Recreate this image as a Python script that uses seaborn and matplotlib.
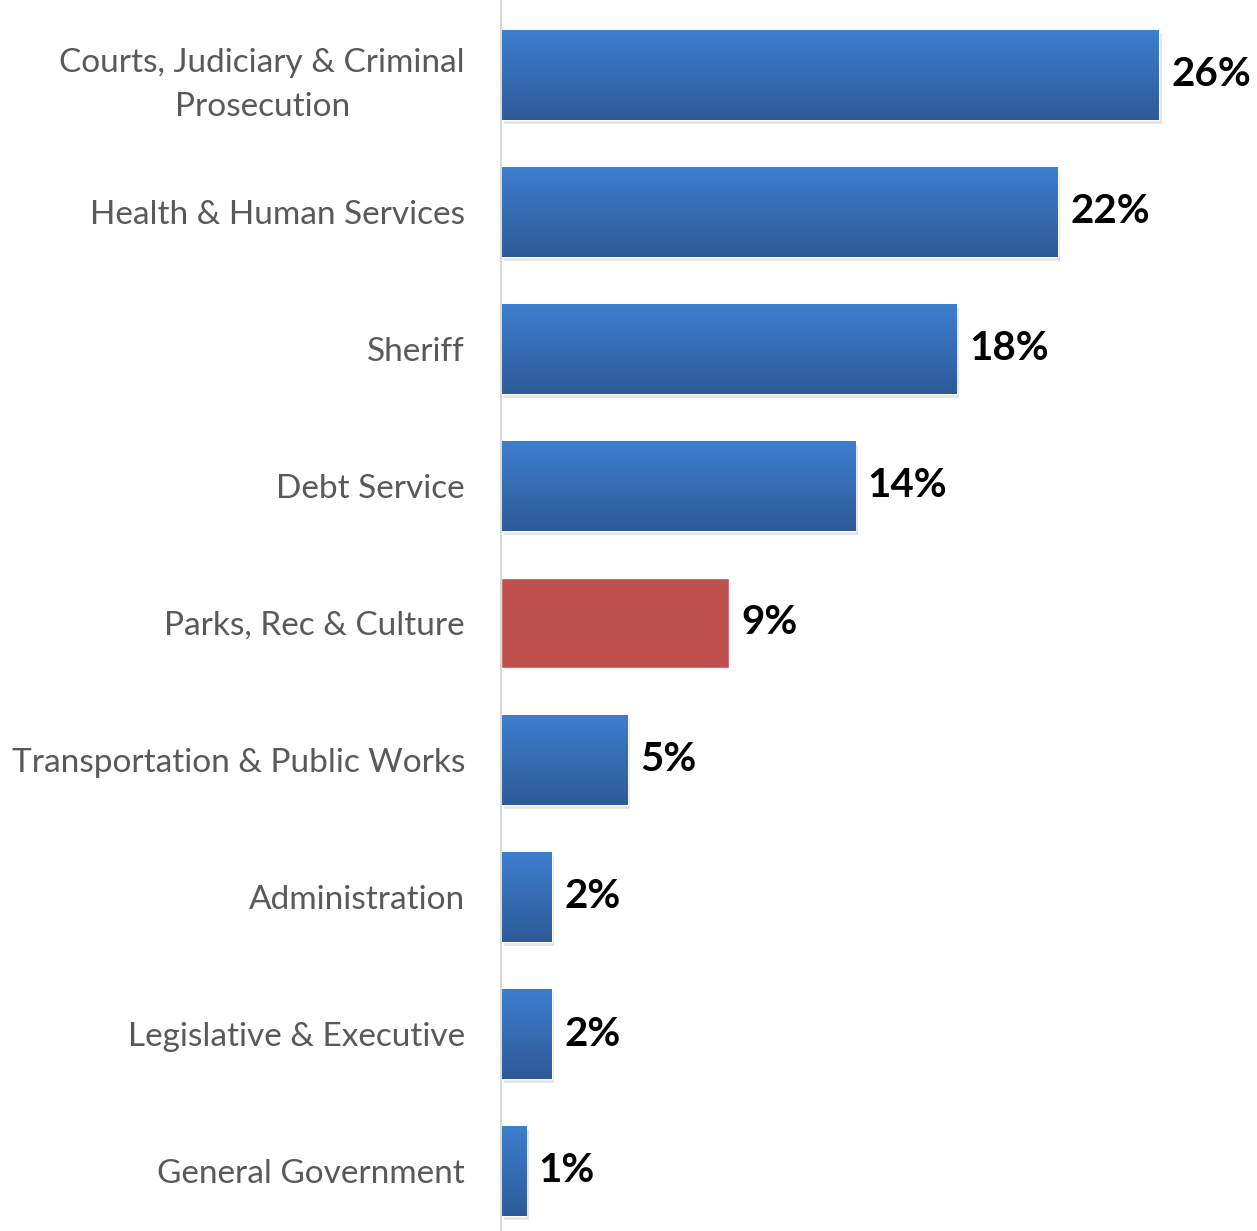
#import libraries
import numpy as np
import pandas as pd
import seaborn as sns
import matplotlib.pyplot as plt
import matplotlib.patheffects as pe
from matplotlib.colors import LinearSegmentedColormap

#chart data
categories = ['Courts, Judiciary & Criminal\nProsecution', 'Health & Human Services', 'Sheriff',
              'Debt Service', 'Parks, Rec & Culture', 'Transportation & Public Works',
              'Administration', 'Legislative & Executive', 'General Government']
values = [26, 22, 18, 14, 9, 5, 2, 2, 1]
value_labels = ['26%', '22%', '18%', '14%', '9%', '5%', '2%', '2%', '1%']
highlight = 'Parks, Rec & Culture'

df = pd.DataFrame({'category': categories, 'value': values})
colors = ['#C0504D' if c == highlight else '#3A74BE' for c in categories]

sns.set_style('white')
plt.rcParams['font.family'] = ['Lato', 'DejaVu Sans']

fig = plt.figure(figsize=(12.57, 12.31), dpi=100)
ax = fig.add_axes([501 / 1257, 0, 756 / 1257, 1])

sns.barplot(data=df, x='value', y='category', hue='category', palette=colors,
            legend=False, width=0.66, ax=ax, saturation=1)

#gradient fill + soft shadow on blue bars
grad = LinearSegmentedColormap.from_list('blue_grad', ['#3D7FD0', '#2D5A97'])
for patch, c in zip(ax.patches, categories):
    if c == highlight:
        continue
    patch.set_path_effects([pe.SimplePatchShadow(offset=(2, -3), shadow_rgbFace='#999999', alpha=0.25),
                            pe.Normal()])
    x0, y0 = patch.get_x(), patch.get_y()
    w, h = patch.get_width(), patch.get_height()
    im = ax.imshow(np.linspace(0, 1, 100).reshape(-1, 1), cmap=grad, aspect='auto',
                   extent=[x0, x0 + w, y0 + h, y0], origin='upper', zorder=patch.get_zorder() + 0.1)
    im.set_clip_path(patch)

ax.set_xlim(0, 756 / 25.3)
ax.set_ylim(8 + 60 / 137, -75 / 137)

#value labels
for i, (v, lab) in enumerate(zip(values, value_labels)):
    ax.annotate(lab, xy=(v, i), xytext=(9, 0), textcoords='offset points',
                va='center', ha='left', fontsize=29, fontweight='bold', color='black')

ax.set_xlabel('')
ax.set_ylabel('')
ax.set_xticks([])
ax.tick_params(axis='y', length=0, pad=26, labelsize=24, labelcolor='#595959')
for lab in ax.get_yticklabels():
    lab.set_multialignment('center')
    lab.set_linespacing(1.6)

for s in ['top', 'right', 'bottom']:
    ax.spines[s].set_visible(False)
ax.spines['left'].set_color('#D9D9D9')
ax.spines['left'].set_linewidth(1.5)

plt.savefig('out.png', dpi=100)
